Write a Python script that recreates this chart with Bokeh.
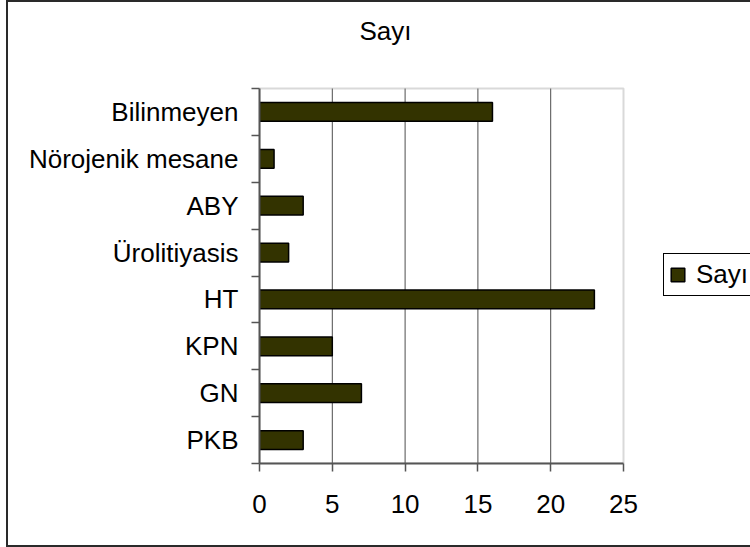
from bokeh.plotting import figure
from bokeh.models import (Range1d, FixedTicker, Legend, LegendItem, Label,
                          ColumnDataSource, BoxAnnotation)
from bokeh.embed import file_html
from bokeh.resources import INLINE

# Categories listed bottom to top, with their counts
categories = ["PKB", "GN", "KPN", "HT", "Ürolitiyasis", "ABY",
              "Nörojenik mesane", "Bilinmeyen"]
counts = [3, 7, 5, 23, 2, 3, 1, 16]
x_ticks = [0, 5, 10, 15, 20, 25]
series_name = "Sayı"
title_text = "Sayı"

FONT = "Liberation Sans"
FS = "26px"
BAR = "#333300"
FRAME = "#2a2a2a"
AXIS = "#555555"

W, H = 750, 547
PLOT_LEFT, PLOT_RIGHT = 259, 623      # plot-area edges in pixels
PLOT_TOP, PLOT_BOTTOM = 88, 463

positions = [i + 0.5 for i in range(len(categories))]
src = ColumnDataSource(dict(y=positions, right=counts, cat=categories))

# The frame runs on to the right and top edges so the legend and the title
# can sit in it; the scales keep the plot area itself at 0..25 x 0..8.
n = len(categories)
x_end = x_ticks[-1] * (W - PLOT_LEFT) / (PLOT_RIGHT - PLOT_LEFT)
y_end = n * PLOT_BOTTOM / (PLOT_BOTTOM - PLOT_TOP)

p = figure(width=W, height=H, output_backend="svg", toolbar_location=None,
           x_range=Range1d(x_ticks[0], x_end),
           y_range=Range1d(0, y_end),
           min_border_left=PLOT_LEFT, min_border_right=0,
           min_border_top=0, min_border_bottom=H - PLOT_BOTTOM)
p.title = None
p.outline_line_color = None
# transparent canvas so the chart-area frame painted on the host shows
p.background_fill_color = None
p.border_fill_color = None
p.styles = {
    "background":
        f"linear-gradient({FRAME},{FRAME}) 6px 0px / 2px {H}px no-repeat, "
        f"linear-gradient({FRAME},{FRAME}) 6px 0px / {W}px 2px no-repeat, "
        f"linear-gradient({FRAME},{FRAME}) 6px {H - 2}px / {W}px 2px no-repeat, "
        "white",
}

# Vertical gridlines, limited to the plot area
p.xgrid.visible = False
p.ygrid.visible = False
grid_x = x_ticks[1:-1]
p.segment(x0=grid_x, x1=grid_x, y0=[0] * len(grid_x), y1=[n] * len(grid_x),
          line_color="#4d4d4d", line_width=1, level="underlay")

bars = p.hbar(y="y", right="right", left=0, height=0.4, source=src,
              fill_color=BAR, line_color="black", line_width=1.5)

# Plot-area border
p.add_layout(BoxAnnotation(left=x_ticks[0], right=x_ticks[-1],
                           bottom=0, top=n,
                           fill_color=None, line_color="#808080",
                           line_width=2, level="underlay"))

# Chart title
p.add_layout(Label(x=126, y=433, x_units="screen", y_units="screen",
                   text=title_text, text_font=FONT, text_font_size=FS,
                   text_color="black", text_align="center",
                   text_baseline="alphabetic"))

# Value axis
xa = p.xaxis[0]
xa.bounds = (x_ticks[0], x_ticks[-1])
xa.ticker = FixedTicker(ticks=x_ticks)
xa.axis_line_color = AXIS
xa.axis_line_width = 2
xa.major_tick_line_color = AXIS
xa.major_tick_line_width = 1.5
xa.major_tick_in = 0
xa.major_tick_out = 8
xa.minor_tick_line_color = None
xa.major_label_text_font = FONT
xa.major_label_text_font_size = FS
xa.major_label_text_color = "black"
xa.major_label_standoff = 23

# Category axis: labels at band centres, tick marks at band boundaries
ya = p.yaxis[0]
ya.bounds = (0, n)
ya.ticker = FixedTicker(ticks=positions, minor_ticks=list(range(n + 1)))
ya.major_label_overrides = {pos: c for pos, c in zip(positions, categories)}
ya.axis_line_color = AXIS
ya.axis_line_width = 2
ya.major_tick_line_color = None
ya.minor_tick_line_color = AXIS
ya.minor_tick_line_width = 1.5
ya.minor_tick_in = 0
ya.minor_tick_out = 8
ya.major_tick_out = 8
ya.major_tick_in = 0
ya.major_label_text_font = FONT
ya.major_label_text_font_size = FS
ya.major_label_text_color = "black"
ya.major_label_standoff = 13

legend = Legend(items=[LegendItem(label=series_name, renderers=[bars])],
                location=(404, 167), border_line_color="black",
                border_line_width=1, border_line_alpha=1,
                glyph_width=17, glyph_height=17,
                label_text_font=FONT, label_text_font_size=FS,
                label_text_color="black",
                padding=5, spacing=0, label_standoff=10, margin=0,
                background_fill_color="white", background_fill_alpha=1)
p.add_layout(legend, "center")

open("out.html", "w").write(file_html(p, INLINE))
